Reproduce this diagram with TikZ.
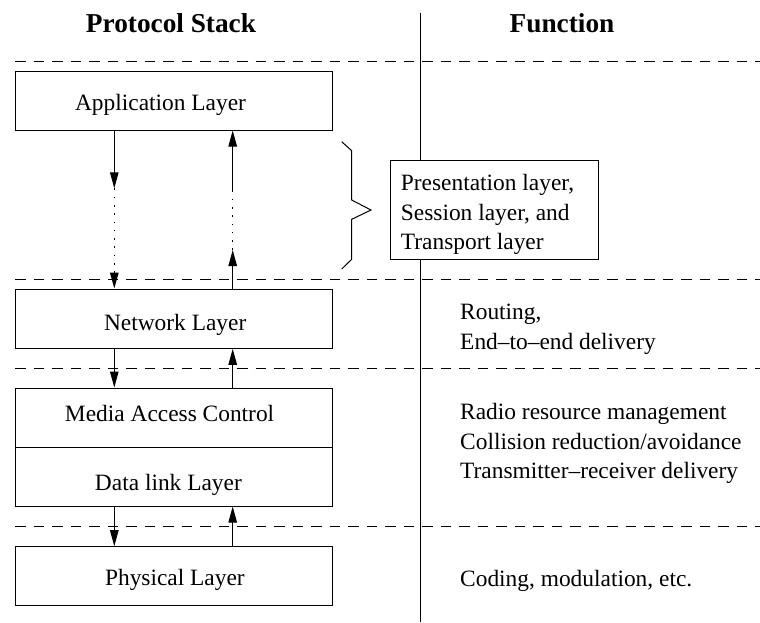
\documentclass[tikz,border=0pt]{standalone}
\usepackage{fontspec}
\setmainfont{Liberation Serif}
\usetikzlibrary{arrows.meta}

\begin{document}
\begin{tikzpicture}[x=1pt,y=-1pt,
  layerbox/.style={draw, line width=1pt, rectangle, inner sep=0pt, minimum width=317pt},
  lbl/.style={inner sep=0pt, anchor=base, font=\fontsize{23.4}{29.5}\selectfont},
  fn/.style={inner sep=0pt, anchor=base west, font=\fontsize{23.4}{29.5}\selectfont},
  head/.style={inner sep=0pt, anchor=base, font=\fontsize{27.3}{32}\selectfont\bfseries},
  sep/.style={line width=1pt, dash pattern=on 10.5pt off 8pt},
  arr/.style={line width=1pt, -{Triangle[length=16pt,width=8.5pt]}},
  dotarr/.style={line width=1.3pt, dash pattern=on 1.6pt off 6.7pt, -{Triangle[length=16pt,width=8.5pt]}},
  dotline/.style={line width=1.3pt, dash pattern=on 1.6pt off 6.7pt},
]
\useasboundingbox (0,0) rectangle (760,622);

% column headings
\node[head] (hstack) at (171,32) {Protocol Stack};
\node[head] (hfunc) at (562,32) {Function};

% column divider
\coordinate (vtop) at (420.5,12.7);
\coordinate (vbot) at (420.5,622);
\draw[line width=1pt] (vtop) -- (vbot);

% layer separators
\draw[sep] (15,61.7) -- (760,61.7);
\draw[sep] (15,279.3) -- (760,279.3);
\draw[sep] (15,368.3) -- (760,368.3);
\draw[sep] (15,526.3) -- (760,526.3);

% protocol stack boxes
\node[layerbox, minimum height=58.7pt] (app) at (173.5,100.65) {};
\node[layerbox, minimum height=59.3pt] (net) at (173.5,318.65) {};
\node[layerbox, minimum height=59.3pt] (mac) at (173.5,417.65) {};
\node[layerbox, minimum height=58.7pt] (dll) at (173.5,476.65) {};
\node[layerbox, minimum height=58.6pt] (phys) at (173.5,576) {};

\node[lbl] (tapp) at (160.5,110.7) {Application Layer};
\node[lbl] (tnet) at (175.2,330) {Network Layer};
\node[lbl] (tmac) at (169.6,421.7) {Media Access Control};
\node[lbl] (tdll) at (168.4,490) {Data link Layer};
\node[lbl] (tphys) at (174.9,585.7) {Physical Layer};

% arrow columns
\coordinate (colA) at (114.3,0);
\coordinate (colB) at (232.7,0);

% application <-> network (through the omitted layers)
\coordinate (dmid) at (114.3,188.3);
\coordinate (umid1) at (232.7,250);
\coordinate (umid2) at (232.7,190);
\draw[arr] (app.south -| colA) -- (dmid);
\draw[dotarr] (dmid) -- (net.north -| colA);
\draw[arr] (net.north -| colB) -- (umid1);
\draw[dotline] (umid1) -- (umid2);
\draw[arr] (umid2) -- (app.south -| colB);

% network <-> MAC
\draw[arr] (net.south -| colA) -- (mac.north -| colA);
\draw[arr] (mac.north -| colB) -- (net.south -| colB);

% data link <-> physical
\draw[arr] (dll.south -| colA) -- (phys.north -| colA);
\draw[arr] (phys.north -| colB) -- (dll.south -| colB);

% brace for the intermediate layers
\draw[line width=1pt] (341.7,141.7) -- (351.7,150.7) -- (351.7,200) -- (371,210)
  -- (351.7,219.3) -- (351.7,259.3) -- (341.7,269);

\node[draw, fill=white, line width=1pt, inner sep=0pt,
      minimum width=207.6pt, minimum height=98.6pt] (mid) at (494.5,210) {};
\node[fn] (mid1) at (400.7,190) {Presentation layer,};
\node[fn] (mid2) at (400.7,220.7) {Session layer, and};
\node[fn] (mid3) at (400.7,249) {Transport layer};

% functions
\node[fn] (f1) at (460,319) {Routing,};
\node[fn] (f2) at (460,349) {End–to–end delivery};
\node[fn] (f3) at (460,419.3) {Radio resource management};
\node[fn] (f4) at (460,449) {Collision reduction/avoidance};
\node[fn] (f5) at (460,478.3) {Transmitter–receiver delivery};
\node[fn] (f6) at (460,586.7) {Coding, modulation, etc.};
\end{tikzpicture}
\end{document}
